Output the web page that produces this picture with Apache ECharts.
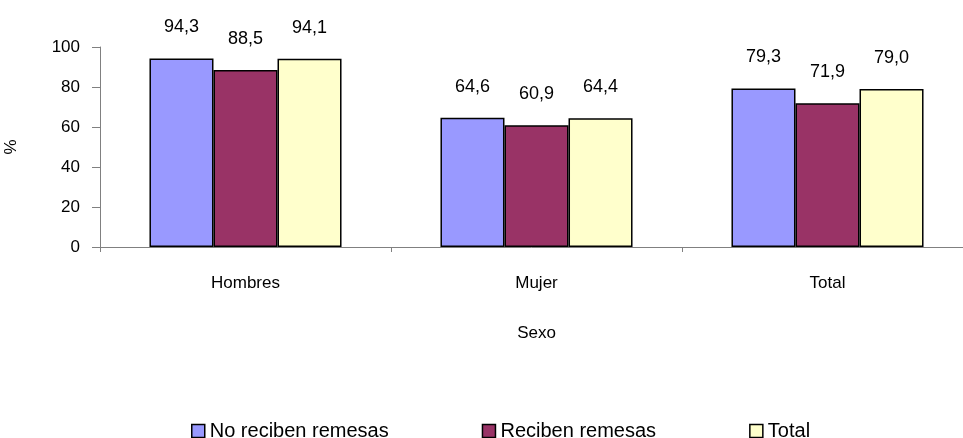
<!DOCTYPE html>
<html>
<head>
<meta charset="utf-8">
<style>
  html, body { margin: 0; padding: 0; background: #fff; }
  #chart { width: 963px; height: 438px; }
</style>
<script src="https://cdn.jsdelivr.net/npm/echarts@6/dist/echarts.min.js"></script>
</head>
<body>
<div id="chart"></div>
<script>
// Categories on the x axis
const categories = ['Hombres', 'Mujer', 'Total'];

// Series values (%)
const noRecibenRemesas = [94.3, 64.6, 79.3];
const recibenRemesas = [88.5, 60.9, 71.9];
const totalValues = [94.1, 64.4, 79.0];

// Y axis ticks
const yMin = 0;
const yMax = 100;
const yStep = 20;

const seriesNames = ['No reciben remesas', 'Reciben remesas', 'Total'];
const seriesColors = ['#9999FF', '#993366', '#FFFFCC'];
const seriesData = [noRecibenRemesas, recibenRemesas, totalValues];

const font = '"Liberation Sans", Arial, sans-serif';

const chart = echarts.init(document.getElementById('chart'), null, { renderer: 'canvas' });

const series = seriesData.map((data, i) => ({
  name: seriesNames[i],
  type: 'bar',
  data: data,
  barWidth: '22%',
  barGap: '0%',
  itemStyle: { color: seriesColors[i], borderColor: '#000', borderWidth: 1.5 },
  label: {
    show: true,
    position: 'top',
    distance: 22,
    color: '#000',
    fontFamily: font,
    fontSize: 18,
    formatter: p => p.value.toFixed(1).replace('.', ',')
  }
}));

chart.setOption({
  animation: false,
  backgroundColor: '#fff',
  textStyle: { fontFamily: font },
  // plot area runs past the right edge of the canvas
  grid: { left: 100, top: 47, width: 873, height: 200, containLabel: false, outerBoundsMode: 'none' },
  legend: {
    data: seriesNames,
    top: 416,
    left: 186,
    itemGap: 93,
    itemWidth: 13,
    itemHeight: 13,
    icon: 'rect',
    itemStyle: { borderColor: '#000', borderWidth: 1.5 },
    textStyle: { fontFamily: font, fontSize: 20, color: '#000' }
  },
  xAxis: {
    type: 'category',
    data: categories,
    name: 'Sexo',
    nameLocation: 'middle',
    nameGap: 78,
    nameTextStyle: { fontFamily: font, fontSize: 17, color: '#000' },
    axisLine: { lineStyle: { color: '#808080', width: 1 } },
    axisTick: { show: true, length: 5, alignWithLabel: false, lineStyle: { color: '#808080' } },
    axisLabel: { margin: 28, fontFamily: font, fontSize: 17, color: '#000' }
  },
  yAxis: {
    type: 'value',
    min: yMin,
    max: yMax,
    interval: yStep,
    name: '%',
    nameLocation: 'middle',
    nameGap: 80,
    nameRotate: 90,
    nameTextStyle: { fontFamily: font, fontSize: 17, color: '#000' },
    axisLine: { show: true, lineStyle: { color: '#808080', width: 1 } },
    axisTick: { show: true, length: 8, lineStyle: { color: '#808080' } },
    axisLabel: { margin: 20, fontFamily: font, fontSize: 17, color: '#000' },
    splitLine: { show: false }
  },
  series: series
});
</script>
</body>
</html>
